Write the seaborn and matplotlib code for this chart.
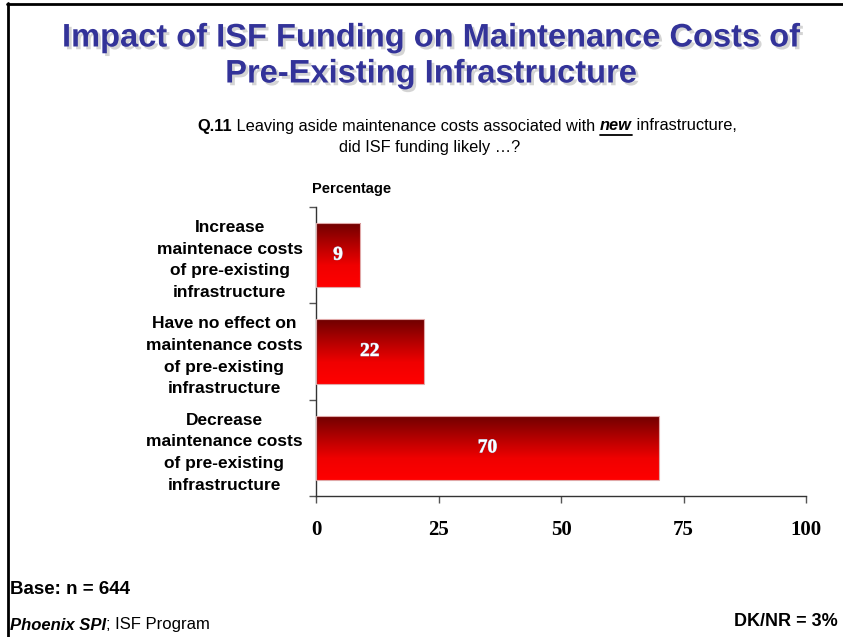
import numpy as np
import pandas as pd
import matplotlib
matplotlib.use('Agg')
import matplotlib.pyplot as plt
import matplotlib.patheffects as pe
from matplotlib.colors import LinearSegmentedColormap
from matplotlib.lines import Line2D
import seaborn as sns

# Data
categories = [
    'Increase\nmaintenace costs\nof pre-existing\ninfrastructure',
    'Have no effect on\nmaintenance costs\nof pre-existing\ninfrastructure',
    'Decrease\nmaintenance costs\nof pre-existing\ninfrastructure',
]
percentages = [9, 22, 70]
x_ticks = [0, 25, 50, 75, 100]

df = pd.DataFrame({'answer': categories, 'pct': percentages})

sns.set_style('white')
plt.rcParams['font.family'] = ['Liberation Sans', 'DejaVu Sans']
plt.rcParams['text.color'] = 'black'
plt.rcParams['xtick.labelcolor'] = 'black'
plt.rcParams['ytick.labelcolor'] = 'black'

fig = plt.figure(figsize=(8.43, 6.37), dpi=100)
ax = fig.add_axes([316 / 843, 1 - 496 / 637, 490 / 843, 289 / 637])

sns.barplot(data=df, x='pct', y='answer', orient='h', ax=ax, width=0.67,
            color='red', saturation=1)

# gradient fill for each bar
grad_cmap = LinearSegmentedColormap.from_list(
    'bar_grad', ['#6e0000', '#b00000', '#f00000', '#ff0000'])
gradient = np.linspace(0, 1, 256).reshape(-1, 1)
for bar in ax.patches:
    x0, y0 = bar.get_x(), bar.get_y()
    w, h = bar.get_width(), bar.get_height()
    im = ax.imshow(gradient, cmap=grad_cmap, aspect='auto', origin='upper',
                   extent=(x0, x0 + w, y0 + h, y0), zorder=2)
    im.set_clip_path(bar)
    bar.set_facecolor('none')
    bar.set_edgecolor('#e0a8a8')
    bar.set_linewidth(0.8)
    bar.set_zorder(3)

ax.set_xlim(0, 100)
ax.set_ylim(2.5, -0.5)

# value labels
for i, v in enumerate(percentages):
    ax.text(v / 2, i, str(v), ha='center', va='center', color='white',
            fontsize=14, fontweight='bold', family='Liberation Serif', zorder=4,
            path_effects=[pe.withStroke(linewidth=0.6, foreground='#a8b0d0')])

# axes styling
for side in ['top', 'right']:
    ax.spines[side].set_visible(False)
for side in ['left', 'bottom']:
    ax.spines[side].set_color('#333333')
    ax.spines[side].set_linewidth(1.0)

ax.set_xticks(x_ticks)
ax.set_xticklabels([str(t) for t in x_ticks], fontsize=15, fontweight='bold',
                   family='Liberation Serif')
ax.tick_params(axis='x', direction='out', length=5, width=1, color='#555555',
               pad=12, bottom=True)

ax.set_yticks([0, 1, 2])
ax.set_yticklabels(categories, fontsize=12.5, fontweight='bold',
                   multialignment='center', linespacing=1.55)
ax.set_yticks([-0.5, 0.5, 1.5, 2.5], minor=True)
ax.tick_params(axis='y', which='major', length=0, pad=9.5)
ax.tick_params(axis='y', which='minor', direction='out', length=5, width=1,
               color='#555555', left=True)
ax.set_xlabel('')
ax.set_ylabel('')

# title
title_color = '#333399'
shadow = [pe.withSimplePatchShadow(offset=(2, -2), shadow_rgbFace='#a0a0a0', alpha=0.45)]
fig.text(431 / 843, 1 - 38 / 637, 'Impact of ISF Funding on Maintenance Costs of',
         ha='center', va='center', fontsize=23.5, fontweight='bold', color=title_color,
         path_effects=shadow)
fig.text(431 / 843, 1 - 74 / 637, 'Pre-Existing Infrastructure',
         ha='center', va='center', fontsize=23.5, fontweight='bold', color=title_color,
         path_effects=shadow)

# subtitle with mixed styles
renderer = fig.canvas.get_renderer()


def mixed_line(pieces, center_x, y, size):
    texts = []
    for s, style in pieces:
        t = fig.text(0, y, s, fontsize=size, va='center', ha='left', **style)
        texts.append(t)
    widths = [t.get_window_extent(renderer).width for t in texts]
    total = sum(widths)
    x = center_x - total / 2
    for t, w in zip(texts, widths):
        t.set_x(x / 843)
        x += w
    return texts, widths


sub_pieces = [
    ('Q.11', {'fontweight': 'bold'}),
    (' Leaving aside maintenance costs associated with ', {}),
    ('new', {'fontweight': 'bold', 'fontstyle': 'italic'}),
    (' infrastructure,', {}),
]
texts, widths = mixed_line(sub_pieces, 467, 1 - 126 / 637, 11.8)
new_t = texts[2]
bb = new_t.get_window_extent(renderer)
fig.add_artist(Line2D([bb.x0 / 843, bb.x1 / 843], [1 - 134.5 / 637, 1 - 134.5 / 637],
                      color='black', lw=1.3))
fig.text(430 / 843, 1 - 147 / 637, 'did ISF funding likely \u2026?', ha='center',
         va='center', fontsize=11.8)

fig.text(312 / 843, 1 - 189 / 637, 'Percentage', ha='left', va='center',
         fontsize=10.5, fontweight='bold')

# footer
fig.text(10 / 843, 1 - 590 / 637, 'Base: n = 644', ha='left', va='center',
         fontsize=13.5, fontweight='bold')
foot_pieces = [
    ('Phoenix SPI', {'fontweight': 'bold', 'fontstyle': 'italic'}),
    ('; ISF Program', {}),
]
x = 10
for s, style in foot_pieces:
    t = fig.text(x / 843, 1 - 625 / 637, s, fontsize=12, ha='left', va='center', **style)
    x += t.get_window_extent(renderer).width
fig.text(838 / 843, 1 - 621 / 637, 'DK/NR = 3%', ha='right', va='center',
         fontsize=13, fontweight='bold')

# frame lines on top and left
fig.add_artist(Line2D([7 / 843, 1], [1 - 3.5 / 637, 1 - 3.5 / 637], color='black', lw=2))
fig.add_artist(Line2D([7.5 / 843, 7.5 / 843], [0, 1 - 3 / 637], color='black', lw=2))

fig.savefig('out.png', dpi=100)
